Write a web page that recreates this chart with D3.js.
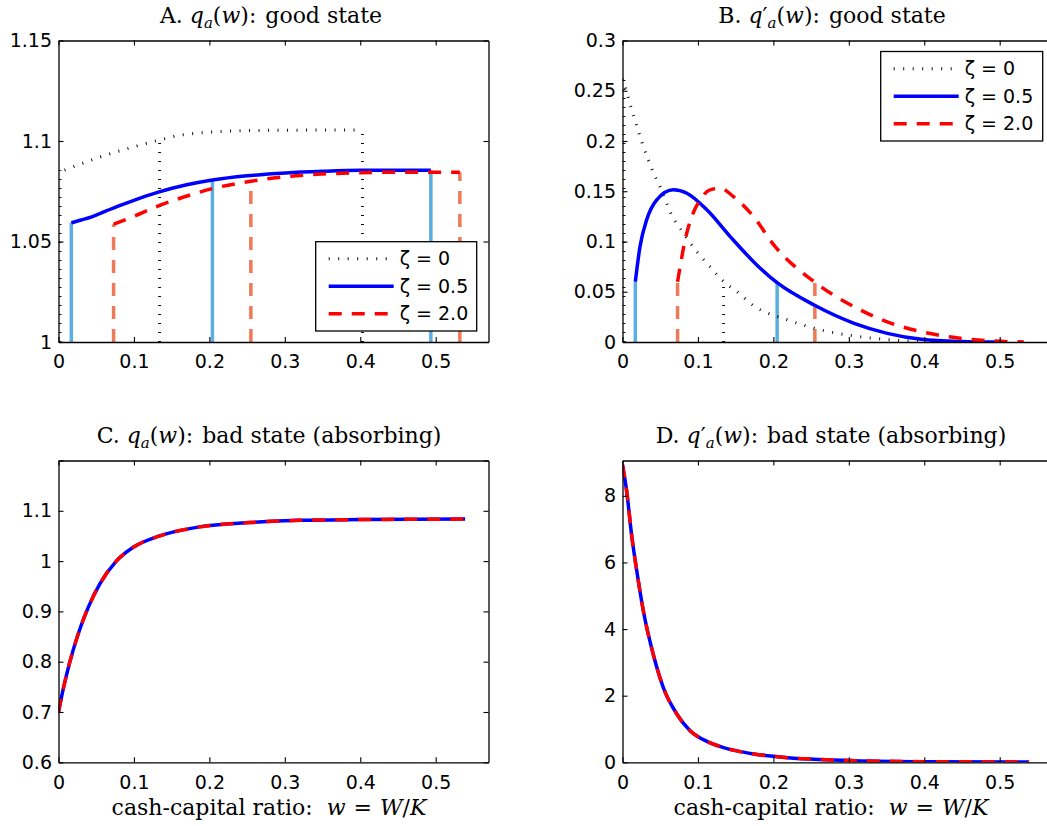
<!DOCTYPE html>
<html>
<head>
<meta charset="utf-8">
<script src="https://cdn.jsdelivr.net/npm/d3@7"></script>
<style>
  body { margin: 0; background: #fff; }
  svg { display: block; }
  .tick text { font-family: "DejaVu Sans", sans-serif; font-size: 19px; fill: #000; }
  .ttl { font-family: "DejaVu Serif", serif; font-size: 22px; fill: #000; }
  .leg { font-family: "DejaVu Sans", sans-serif; font-size: 19px; fill: #000; }
</style>
</head>
<body>
<div id="chart"></div>
<script>
// ---- data: [w, value] ----

// A. q_a(w), good state
const aZeta0 = [[0.008,1.0855],[0.055,1.092],[0.099,1.097],[0.134,1.1005],[0.16,1.1028],[0.187,1.104],[0.231,1.105],[0.275,1.1053],[0.403,1.1055]];
const aZeta05 = [[0.017,1.0593],[0.03,1.0607],[0.045,1.0624],[0.06,1.0647],[0.08,1.0677],[0.1,1.0705],[0.129,1.0742],[0.17,1.0782],[0.204,1.0806],[0.25,1.0827],[0.301,1.0841],[0.35,1.0849],[0.4,1.0854],[0.4936,1.0855]];
const aZeta2 = [[0.073,1.0586],[0.1,1.0625],[0.129,1.0672],[0.165,1.072],[0.204,1.0763],[0.255,1.08],[0.3,1.0822],[0.363,1.0838],[0.43,1.0844],[0.532,1.0845]];
// boundary markers (vertical lines) for each case: [w, top]
const aMarks0 = [[0.002,1.0855],[0.134,1.1005],[0.403,1.1055]];
const aMarks05 = [[0.017,1.0593],[0.204,1.0806],[0.4936,1.0855]];
const aMarks2 = [[0.073,1.0586],[0.255,1.08],[0.532,1.0845]];

// B. q'_a(w), good state
const bZeta0 = [[0,0.262],[0.0046,0.2517],[0.0077,0.2427],[0.0144,0.226],[0.0255,0.1995],[0.0343,0.181],[0.0432,0.1646],[0.0498,0.1547],[0.063,0.1298],[0.0808,0.1083],[0.0985,0.09],[0.116,0.075],[0.1317,0.0618],[0.1517,0.05],[0.174,0.036],[0.219,0.022],[0.263,0.012],[0.307,0.006],[0.35,0.0025],[0.403,0]];
const bZeta05 = [[0.017,0.06],[0.0232,0.0949],[0.032,0.1215],[0.0454,0.1414],[0.0675,0.1514],[0.0853,0.148],[0.1118,0.1315],[0.1428,0.1049],[0.178,0.0767],[0.205,0.059],[0.254,0.0368],[0.307,0.0186],[0.351,0.0086],[0.396,0.0027],[0.45,0.0005],[0.4936,0]];
const bZeta2 = [[0.073,0.06],[0.0764,0.075],[0.083,0.1016],[0.0919,0.1248],[0.103,0.1414],[0.116,0.1514],[0.1295,0.153],[0.147,0.1447],[0.1737,0.1248],[0.2005,0.0966],[0.254,0.06],[0.307,0.035],[0.351,0.02],[0.418,0.007],[0.484,0.0013],[0.532,0]];
const bMarks0 = [[0.002,0.262],[0.134,0.0585],[0.403,0]];
const bMarks05 = [[0.017,0.06],[0.205,0.059],[0.4936,0]];
const bMarks2 = [[0.073,0.06],[0.255,0.059],[0.532,0]];

// C. q_a(w), bad state (same for zeta = 0.5 and 2.0)
const cCurve = [[0,0.7],[0.005,0.737],[0.01,0.77],[0.02,0.826],[0.03,0.872],[0.04,0.91],[0.055,0.955],[0.0766,1.0],[0.0986,1.027],[0.134,1.05],[0.187,1.068],[0.253,1.0765],[0.319,1.081],[0.4,1.0825],[0.539,1.0835]];

// D. q'_a(w), bad state
const dCurve = [[0,8.93],[0.0056,8.13],[0.0122,6.8],[0.0189,5.75],[0.0276,4.55],[0.041,3.22],[0.054,2.25],[0.072,1.45],[0.0896,0.95],[0.1118,0.63],[0.13,0.47],[0.15,0.35],[0.174,0.25],[0.219,0.14],[0.26,0.085],[0.307,0.05],[0.4,0.02],[0.539,0.01]];

const xTicks = [0, 0.1, 0.2, 0.3, 0.4, 0.5];
const aYTicks = [1, 1.05, 1.1, 1.15];
const bYTicks = [0, 0.05, 0.1, 0.15, 0.2, 0.25, 0.3];
const cYTicks = [0.6, 0.7, 0.8, 0.9, 1, 1.1, 1.2];
const cYLabels = [0.6, 0.7, 0.8, 0.9, 1, 1.1];
const dYTicks = [0, 2, 4, 6, 8];
const legendLabels = ['\u03b6 = 0', '\u03b6 = 0.5', '\u03b6 = 2.0'];

// ---- styles ----
const styles = {
  dot:   { stroke: '#111', width: 3, dash: '1,8.5' },
  blue:  { stroke: '#0000ff', width: 3.5, dash: null },
  red:   { stroke: '#ff0000', width: 3.5, dash: '13,10' },
  lblue: { stroke: '#5aafe2', width: 3.5, dash: null },
  salm:  { stroke: '#ef7a57', width: 3.5, dash: '13,10' },
  dotv:  { stroke: '#111', width: 3, dash: '1,8' }
};

const W = 1047, H = 826;
const svg = d3.select('#chart').append('svg').attr('width', W).attr('height', H);

const fmt = d => String(+d.toFixed(4));

function applyStyle(sel, st) {
  sel.attr('fill', 'none')
    .attr('stroke', st.stroke)
    .attr('stroke-width', st.width)
    .attr('stroke-dasharray', st.dash);
}

function addTitle(g, x, y, parts) {
  const t = g.append('text').attr('class', 'ttl').attr('x', x).attr('y', y).attr('text-anchor', 'middle');
  parts.forEach(p => {
    const s = t.append('tspan').text(p.t);
    if (p.i) s.attr('font-style', 'italic');
    if (p.sub) s.attr('font-size', '15px').attr('dy', 5);
    if (p.back) s.attr('dy', -5);
    if (p.dx) s.attr('dx', p.dx);
  });
}

function drawPanel(cfg) {
  const g = svg.append('g').attr('transform', `translate(${cfg.left},${cfg.top})`);
  const x = d3.scaleLinear().domain([0, 0.57]).range([0, cfg.width]);
  const y = d3.scaleLinear().domain(cfg.yDomain).range([cfg.height, 0]);

  const clipId = 'clip' + cfg.id;
  g.append('clipPath').attr('id', clipId)
    .append('rect').attr('width', cfg.width).attr('height', cfg.height);

  const plot = g.append('g').attr('clip-path', `url(#${clipId})`);
  const line = d3.line().x(d => x(d[0])).y(d => y(d[1])).curve(d3.curveMonotoneX);
  const y0 = cfg.yDomain[0];

  (cfg.marks || []).forEach(m => {
    m.data.forEach(d => {
      plot.append('line')
        .attr('x1', x(d[0])).attr('x2', x(d[0]))
        .attr('y1', y(y0)).attr('y2', y(d[1]))
        .call(applyStyle, styles[m.style]);
    });
  });
  cfg.series.forEach(s => {
    plot.append('path').datum(s.data).attr('d', line).call(applyStyle, styles[s.style]);
  });

  // axes, ticks pointing inward on all four sides
  g.append('g').attr('transform', `translate(0,${cfg.height})`)
    .call(d3.axisBottom(x).tickValues(xTicks).tickFormat(fmt).tickSizeInner(-5).tickSizeOuter(0).tickPadding(13));
  g.append('g')
    .call(d3.axisTop(x).tickValues(xTicks).tickFormat('').tickSizeInner(-5).tickSizeOuter(0));
  g.append('g')
    .call(d3.axisLeft(y).tickValues(cfg.yTicks).tickFormat(d => cfg.yLabels.includes(d) ? fmt(d) : '')
      .tickSizeInner(-5).tickSizeOuter(0).tickPadding(6.5));
  g.append('g').attr('transform', `translate(${cfg.width},0)`)
    .call(d3.axisRight(y).tickValues(cfg.yTicks).tickFormat('').tickSizeInner(-5).tickSizeOuter(0));
  g.selectAll('.domain').attr('stroke', '#000').attr('stroke-width', 1.3);
  g.selectAll('.tick line').attr('stroke', '#000').attr('stroke-width', 1.1);

  addTitle(svg, cfg.titleX, cfg.top - 18, cfg.title);

  if (cfg.xlabel) {
    addTitle(svg, cfg.titleX, cfg.top + cfg.height + 53, [
      { t: 'cash-capital ratio:' }, { t: 'w', i: true, dx: 14 }, { t: '=', dx: 8 },
      { t: 'W', i: true, dx: 8 }, { t: '/' }, { t: 'K', i: true }
    ]);
  }

  if (cfg.legend) {
    const L = cfg.legend;
    const lg = svg.append('g').attr('transform', `translate(${L.x},${L.y})`);
    lg.append('rect').attr('width', L.w).attr('height', L.h)
      .attr('fill', '#fff').attr('stroke', '#000').attr('stroke-width', 1.3);
    ['dot', 'blue', 'red'].forEach((st, i) => {
      const yy = L.h / 2 + (i - 1) * 27.5;
      lg.append('line').attr('x1', 13).attr('x2', 78).attr('y1', yy).attr('y2', yy)
        .call(applyStyle, styles[st]);
      lg.append('text').attr('class', 'leg').attr('x', 84).attr('y', yy).attr('dy', '0.35em')
        .text(legendLabels[i]);
    });
  }
}

const qa = [{ t: 'q', i: true }, { t: 'a', i: true, sub: true }, { t: '(', back: true }, { t: 'w', i: true }, { t: '):' }];
const qpa = [{ t: 'q', i: true }, { t: '\u2032' }, { t: 'a', i: true, sub: true }, { t: '(', back: true }, { t: 'w', i: true }, { t: '):' }];

drawPanel({
  id: 'A', left: 58.5, top: 40.5, width: 430, height: 301.5, titleX: 271,
  yDomain: [1, 1.15], yTicks: aYTicks, yLabels: aYTicks,
  title: [{ t: 'A.' }, { t: ' ' }, ...qa, { t: 'good state', dx: 9 }],
  marks: [{ data: aMarks0, style: 'dotv' }, { data: aMarks05, style: 'lblue' }, { data: aMarks2, style: 'salm' }],
  series: [{ data: aZeta0, style: 'dot' }, { data: aZeta05, style: 'blue' }, { data: aZeta2, style: 'red' }],
  legend: { x: 315.7, y: 241.7, w: 161, h: 89.3 }
});

drawPanel({
  id: 'B', left: 622.5, top: 40.5, width: 430, height: 301.5, titleX: 832,
  yDomain: [0, 0.3], yTicks: bYTicks, yLabels: bYTicks,
  title: [{ t: 'B.' }, { t: ' ' }, ...qpa, { t: 'good state', dx: 9 }],
  marks: [{ data: bMarks0, style: 'dotv' }, { data: bMarks05, style: 'lblue' }, { data: bMarks2, style: 'salm' }],
  series: [{ data: bZeta0, style: 'dot' }, { data: bZeta05, style: 'blue' }, { data: bZeta2, style: 'red' }],
  legend: { x: 880.7, y: 51.5, w: 162, h: 89.5 }
});

drawPanel({
  id: 'C', left: 58.5, top: 460.5, width: 430, height: 301.8, titleX: 269,
  yDomain: [0.6, 1.2], yTicks: cYTicks, yLabels: cYLabels,
  title: [{ t: 'C.' }, { t: ' ' }, ...qa, { t: 'bad state (absorbing)', dx: 9 }],
  series: [{ data: cCurve, style: 'blue' }, { data: cCurve, style: 'red' }],
  xlabel: true
});

drawPanel({
  id: 'D', left: 622.5, top: 460.5, width: 430, height: 301.8, titleX: 831,
  yDomain: [0, 9.06], yTicks: dYTicks, yLabels: dYTicks,
  title: [{ t: 'D.' }, { t: ' ' }, ...qpa, { t: 'bad state (absorbing)', dx: 9 }],
  series: [{ data: dCurve, style: 'blue' }, { data: dCurve, style: 'red' }],
  xlabel: true
});
</script>
</body>
</html>
